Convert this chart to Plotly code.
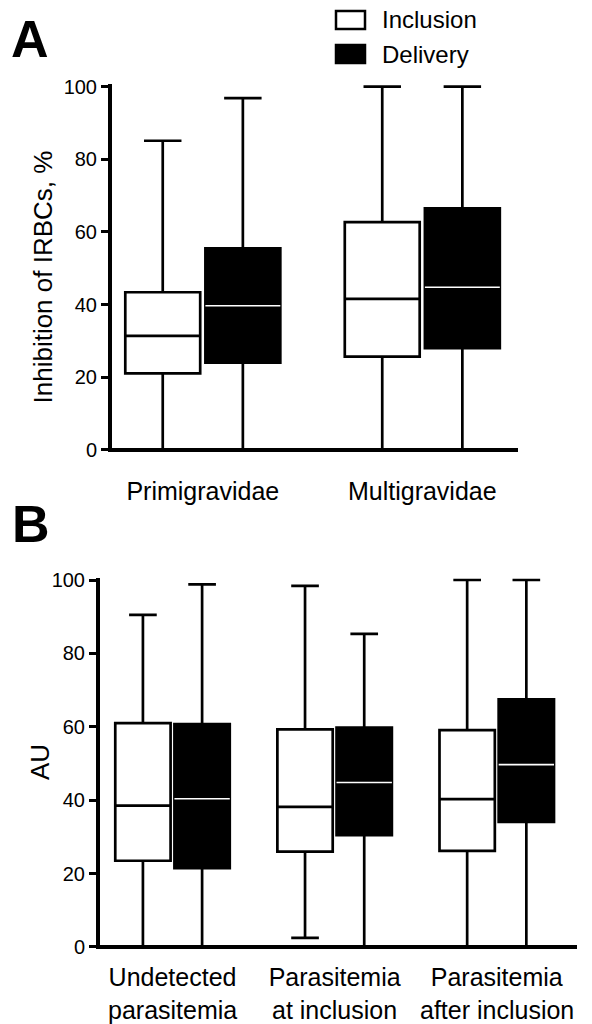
import plotly.graph_objects as go

W, H = 592, 1024
FONT = "Liberation Sans, Arial, sans-serif"

# ---------------- data ----------------
cats_A = ["Primigravidae", "Multigravidae"]
incl_A_low = [0, 0]
incl_A_q1 = [21.1, 25.7]
incl_A_med = [31.4, 41.6]
incl_A_q3 = [43.4, 62.7]
incl_A_high = [85.1, 100]
del_A_low = [0, 0]
del_A_q1 = [24.0, 28.0]
del_A_med = [39.7, 44.8]
del_A_q3 = [55.5, 66.5]
del_A_high = [96.8, 100]

cats_B = ["Undetected parasitemia", "Parasitemia at inclusion", "Parasitemia after inclusion"]
cats_B_line1 = ["Undetected", "Parasitemia", "Parasitemia"]
cats_B_line2 = ["parasitemia", "at inclusion", "after inclusion"]
incl_B_low = [0, 2.5, 0]
incl_B_q1 = [23.5, 26.0, 26.2]
incl_B_med = [38.5, 38.2, 40.3]
incl_B_q3 = [61.0, 59.3, 59.1]
incl_B_high = [90.5, 98.4, 100]
del_B_low = [0, 0, 0]
del_B_q1 = [21.5, 30.5, 34.1]
del_B_med = [40.4, 44.8, 49.7]
del_B_q3 = [60.7, 59.8, 67.5]
del_B_high = [98.8, 85.3, 100]

y_ticks = [0, 20, 40, 60, 80, 100]
legend_names = ["Inclusion", "Delivery"]
title_A = "Inhibition of IRBCs, %"
title_B = "AU"


def px(x):
    return x / W


def py(y):
    return 1 - y / H


BOX_LW = 2.7
fig = go.Figure()


def add_panel(xa, ya, cats, il, iq1, im, iq3, ih, dl, dq1, dm, dq3, dh):
    common = dict(x=cats, xaxis=xa, yaxis=ya, boxpoints=False, showlegend=False,
                  whiskerwidth=0.5, hoverinfo="skip")
    fig.add_trace(go.Box(name=legend_names[0], q1=iq1, median=im, q3=iq3,
                         lowerfence=il, upperfence=ih, fillcolor="white",
                         line=dict(color="black", width=BOX_LW),
                         offsetgroup="inc", **common))
    fig.add_trace(go.Box(name=legend_names[1], q1=dq1, median=dm, q3=dq3,
                         lowerfence=dl, upperfence=dh, fillcolor="black",
                         line=dict(color="black", width=BOX_LW),
                         offsetgroup="del", **common))
    # white median line drawn on the black delivery boxes
    fig.add_trace(go.Box(name=legend_names[1] + " median", q1=dm, median=dm, q3=dm,
                         lowerfence=dm, upperfence=dm, fillcolor="rgba(0,0,0,0)",
                         line=dict(color="white", width=1.6),
                         offsetgroup="del", **common))


add_panel("x", "y", cats_A, incl_A_low, incl_A_q1, incl_A_med, incl_A_q3, incl_A_high,
          del_A_low, del_A_q1, del_A_med, del_A_q3, del_A_high)
add_panel("x2", "y2", cats_B, incl_B_low, incl_B_q1, incl_B_med, incl_B_q3, incl_B_high,
          del_B_low, del_B_q1, del_B_med, del_B_q3, del_B_high)

yaxis_common = dict(range=[-0.5, 100.6], tickvals=y_ticks, showgrid=False,
                    zeroline=True, zerolinecolor="black", zerolinewidth=3.5,
                    showline=True, linecolor="black", linewidth=3.5, automargin=False,
                    ticks="outside", ticklen=7, tickwidth=3, tickcolor="black",
                    tickfont=dict(family=FONT, size=20, color="black"),
                    fixedrange=True)
xaxis_common = dict(type="category", showgrid=False, zeroline=False, showline=False,
                    ticks="", automargin=False,
                    tickfont=dict(family=FONT, size=25, color="black"), fixedrange=True)

fig.update_layout(
    width=W, height=H,
    margin=dict(l=0, r=0, t=0, b=0, pad=0, autoexpand=False),
    paper_bgcolor="white", plot_bgcolor="white",
    boxmode="group", boxgap=0.27, boxgroupgap=0.065,
    xaxis=dict(domain=[px(111.75), px(518)], anchor="y",
               range=[-0.4148, 1.436], ticklabelstandoff=22, **xaxis_common),
    yaxis=dict(domain=[py(451.8), py(84.4)], anchor="x", **yaxis_common),
    xaxis2=dict(domain=[px(99.75), px(577)], anchor="y2",
                range=[-0.4488, 2.495], tickvals=cats_B, ticktext=cats_B_line1,
                ticklabelstandoff=11, **xaxis_common),
    yaxis2=dict(domain=[py(948.8), py(577.8)], anchor="x2", **yaxis_common),
)

ann = []
# second line of panel B category labels
for c, t in zip(cats_B, cats_B_line2):
    ann.append(dict(x=c, xref="x2", y=py(1010), yref="paper", yanchor="middle",
                    xanchor="center", text=t, showarrow=False,
                    font=dict(family=FONT, size=25, color="black")))
# y-axis titles
ann.append(dict(x=px(42.5), y=py(277), xref="paper", yref="paper", text=title_A,
                xanchor="center", yanchor="middle",
                textangle=-90, showarrow=False, font=dict(family=FONT, size=26, color="black")))
ann.append(dict(x=px(40), y=py(762), xref="paper", yref="paper", text=title_B,
                xanchor="center", yanchor="middle",
                textangle=-90, showarrow=False, font=dict(family=FONT, size=26, color="black")))
# panel letters
ann.append(dict(x=px(30), y=py(38.5), xref="paper", yref="paper", text="<b>A</b>",
                xanchor="center", yanchor="middle",
                showarrow=False, font=dict(family=FONT, size=52, color="black")))
ann.append(dict(x=px(31), y=py(523.5), xref="paper", yref="paper", text="<b>B</b>",
                xanchor="center", yanchor="middle",
                showarrow=False, font=dict(family=FONT, size=52, color="black")))
# legend text
ann.append(dict(x=px(380), y=py(19.5), xref="paper", yref="paper", xanchor="left",
                yanchor="middle", text=legend_names[0], showarrow=False,
                font=dict(family=FONT, size=24, color="black")))
ann.append(dict(x=px(380), y=py(54), xref="paper", yref="paper", xanchor="left",
                yanchor="middle", text=legend_names[1], showarrow=False,
                font=dict(family=FONT, size=24, color="black")))

shapes = [
    dict(type="rect", xref="paper", yref="paper", x0=px(336), x1=px(365), y0=py(29), y1=py(11),
         fillcolor="white", line=dict(color="black", width=2.5)),
    dict(type="rect", xref="paper", yref="paper", x0=px(336), x1=px(365), y0=py(63), y1=py(45),
         fillcolor="black", line=dict(color="black", width=2.5)),
]

fig.update_layout(annotations=ann, shapes=shapes)
fig.write_html("out.html")
